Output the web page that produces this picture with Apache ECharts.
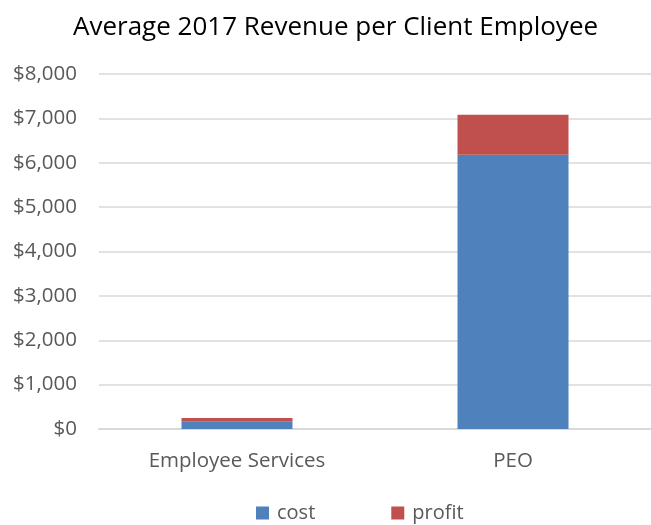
<!DOCTYPE html>
<html>
<head>
<meta charset="utf-8">
<script src="https://cdn.jsdelivr.net/npm/echarts@6/dist/echarts.min.js"></script>
<style>
  html, body { margin: 0; padding: 0; background: #fff; }
  #chart { width: 651px; height: 525px; }
</style>
</head>
<body>
<div id="chart"></div>
<script>
// Average revenue per client employee, split into cost and profit
const categories = ['Employee Services', 'PEO'];
const costValues = [175, 6180];
const profitValues = [75, 900];
const yTicks = [0, 1000, 2000, 3000, 4000, 5000, 6000, 7000, 8000];

const FONT = '"Open Sans", Lato, sans-serif';
const chart = echarts.init(document.getElementById('chart'), null, { renderer: 'canvas' });

chart.setOption({
  animation: false,
  backgroundColor: '#ffffff',
  title: {
    text: 'Average 2017 Revenue per Client Employee',
    left: 68,
    top: 10,
    textStyle: { fontFamily: FONT, fontSize: 26, fontWeight: 'normal', color: '#000000' }
  },
  grid: { left: 99, right: -2, top: 74, bottom: 96, containLabel: false },
  legend: {
    bottom: -3,
    left: 251,
    itemWidth: 13,
    itemHeight: 13,
    itemGap: 76,
    icon: 'rect',
    textStyle: { fontFamily: FONT, fontSize: 20, color: '#595959', padding: [0, 0, 0, 3] },
    data: ['cost', 'profit']
  },
  xAxis: {
    type: 'category',
    data: categories,
    axisLine: { lineStyle: { color: '#d9d9d9', width: 2 } },
    axisTick: { show: false },
    axisLabel: { fontFamily: FONT, fontSize: 20.5, color: '#595959', margin: 22 }
  },
  yAxis: {
    type: 'value',
    min: yTicks[0],
    max: yTicks[yTicks.length - 1],
    interval: 1000,
    axisLine: { show: false },
    axisTick: { show: false },
    splitLine: { lineStyle: { color: '#d9d9d9', width: 1.5 } },
    axisLabel: {
      fontFamily: FONT, fontSize: 20.5, color: '#595959', margin: 22,
      formatter: v => '$' + v.toLocaleString('en-US')
    }
  },
  series: [
    {
      name: 'cost', type: 'bar', stack: 'rev', barWidth: 111,
      itemStyle: { color: '#4f81bd' },
      data: costValues
    },
    {
      name: 'profit', type: 'bar', stack: 'rev', barWidth: 111,
      itemStyle: { color: '#c0504d' },
      data: profitValues
    }
  ]
});
</script>
</body>
</html>
